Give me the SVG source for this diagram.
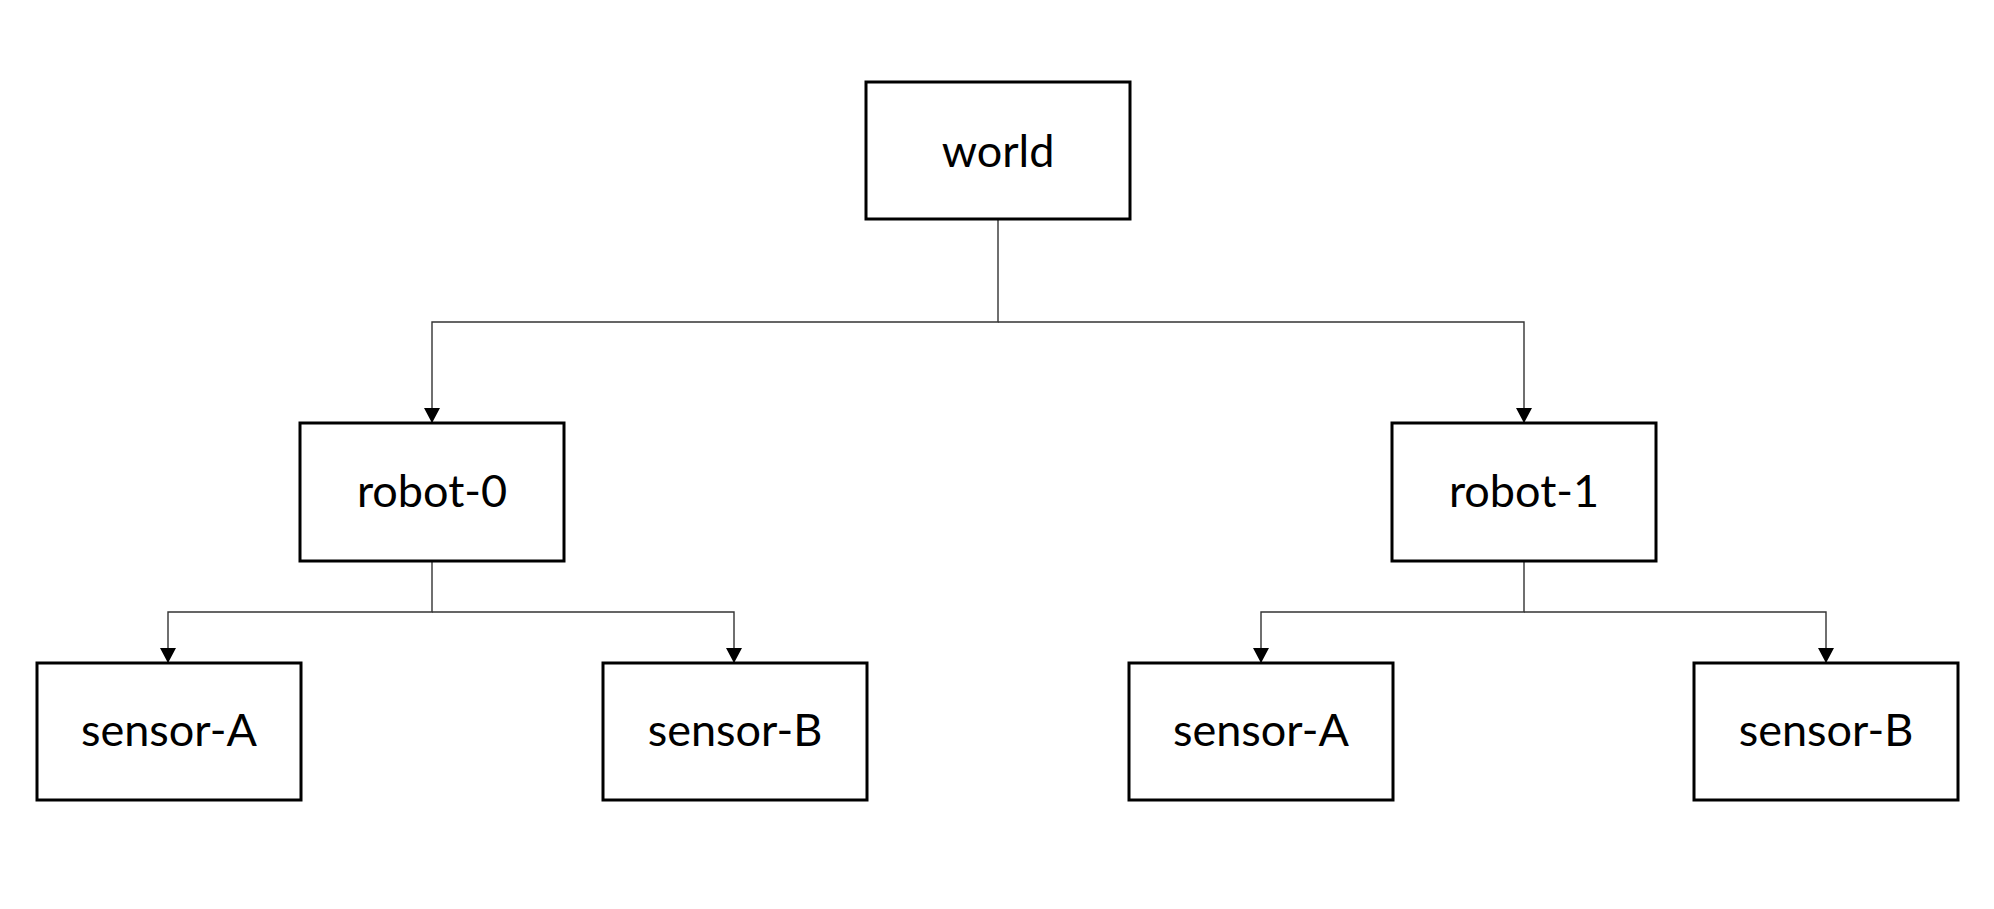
<svg xmlns="http://www.w3.org/2000/svg" width="1994" height="909" viewBox="0 0 1994 909">
<style>
.box{fill:#fff;stroke:#000;stroke-width:3}
.lbl{font-family:Lato,"Open Sans",sans-serif;font-size:45px;fill:#000;text-anchor:middle}
.con{fill:none;stroke:#333;stroke-width:1.4}
</style>
<defs>
<marker id="arrd" markerUnits="userSpaceOnUse" markerWidth="15" markerHeight="16" refX="15" refY="8" orient="auto" viewBox="0 0 15 16">
<path d="M0,0 L15,8 L0,16 Z" fill="#000"/>
</marker>
</defs>
<rect width="1994" height="909" fill="#fff"/>
<g id="connectors">
<path class="con" d="M998,219 V322 H432 V423" marker-end="url(#arrd)"/>
<path class="con" d="M998,322 H1524 V423" marker-end="url(#arrd)"/>
<path class="con" d="M432,561 V612 H168 V663" marker-end="url(#arrd)"/>
<path class="con" d="M432,612 H734 V663" marker-end="url(#arrd)"/>
<path class="con" d="M1524,561 V612 H1261 V663" marker-end="url(#arrd)"/>
<path class="con" d="M1524,612 H1826 V663" marker-end="url(#arrd)"/>
</g>
<g id="world"><rect class="box" x="866" y="82" width="264" height="137"/><text class="lbl" x="998" y="167">world</text></g>
<g id="robot-0"><rect class="box" x="300" y="423" width="264" height="138"/><text class="lbl" x="432" y="507">robot-0</text></g>
<g id="robot-1"><rect class="box" x="1392" y="423" width="264" height="138"/><text class="lbl" x="1524" y="507">robot-1</text></g>
<g id="sensor-A-0"><rect class="box" x="37" y="663" width="264" height="137"/><text class="lbl" x="169" y="746">sensor-A</text></g>
<g id="sensor-B-0"><rect class="box" x="603" y="663" width="264" height="137"/><text class="lbl" x="735" y="746">sensor-B</text></g>
<g id="sensor-A-1"><rect class="box" x="1129" y="663" width="264" height="137"/><text class="lbl" x="1261" y="746">sensor-A</text></g>
<g id="sensor-B-1"><rect class="box" x="1694" y="663" width="264" height="137"/><text class="lbl" x="1826" y="746">sensor-B</text></g>
</svg>
